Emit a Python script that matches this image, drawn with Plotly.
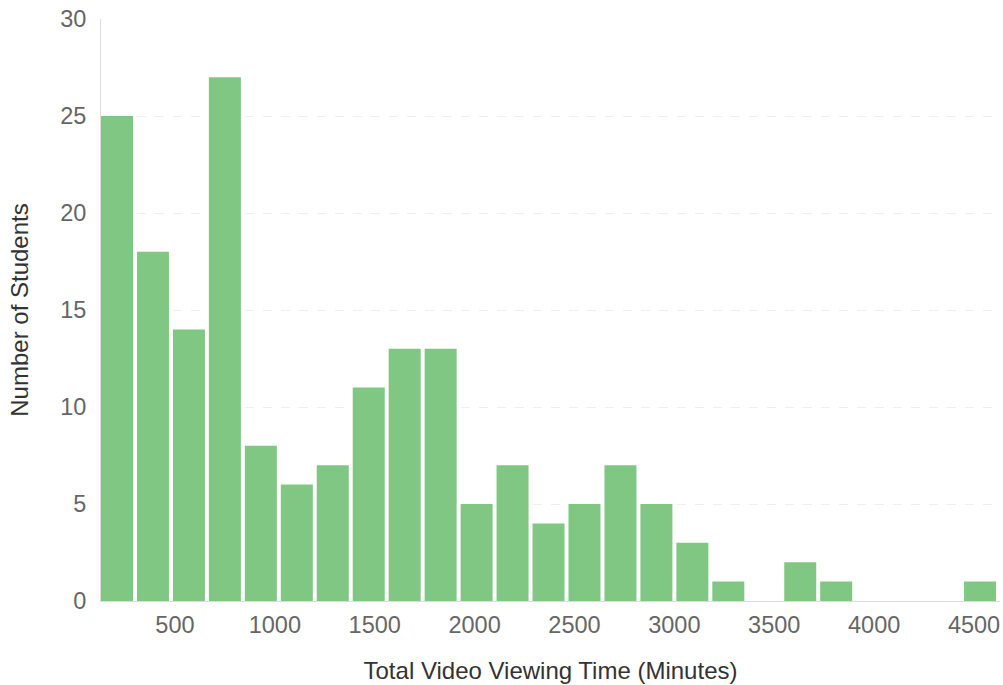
import plotly.graph_objects as go

bin_start = 130
bin_width = 180
counts = [25, 18, 14, 27, 8, 6, 7, 11, 13, 13, 5, 7, 4, 5, 7, 5, 3, 1, 0, 2, 1, 0, 0, 0, 1]
x_ticks = [500, 1000, 1500, 2000, 2500, 3000, 3500, 4000, 4500]
y_ticks = [0, 5, 10, 15, 20, 25, 30]

left_edges = [bin_start + i * bin_width for i in range(len(counts))]

fig = go.Figure(go.Bar(
    x=left_edges,
    y=counts,
    width=bin_width * 0.89,
    offset=0,
    marker=dict(color="#81C784", line=dict(width=0)),
))

fig.update_layout(
    width=1003, height=685,
    margin=dict(l=101, r=3, t=19, b=84),
    paper_bgcolor="white", plot_bgcolor="white",
    font=dict(family="Liberation Sans, Arial, sans-serif", color="#666666", size=23.5),
    showlegend=False,
    xaxis=dict(
        range=[bin_start, bin_start + bin_width * len(counts)],
        tickvals=x_ticks,
        automargin=False,
        showgrid=False, zeroline=False,
        showline=True, linecolor="#dddddd", linewidth=1,
        ticks="", ticklen=0, ticklabelstandoff=3,
        ticklabeloverflow="allow",
        tickfont=dict(size=23.5, color="#666666"),
        title=dict(text="Total Video Viewing Time (Minutes)", font=dict(size=24, color="#333333"), standoff=24),
    ),
    yaxis=dict(
        range=[0, 30],
        tickvals=y_ticks,
        automargin=False,
        showgrid=True, gridcolor="#eeeeee", griddash="dash", gridwidth=1,
        zeroline=False,
        showline=True, linecolor="#dddddd", linewidth=1,
        ticks="", ticklen=0, ticklabelstandoff=9,
        ticklabeloverflow="allow",
        tickfont=dict(size=23.5, color="#666666"),
        title=dict(text="Number of Students", font=dict(size=24, color="#333333"), standoff=24),
    ),
)

fig.write_html(
    "out.html",
    config={"displayModeBar": False},
    post_script="document.body.style.margin='0';document.body.style.overflow='hidden';",
)
